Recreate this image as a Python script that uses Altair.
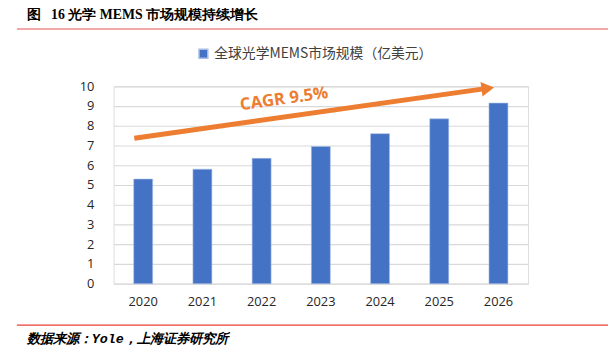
import altair as alt
import pandas as pd

years = ["2020", "2021", "2022", "2023", "2024", "2025", "2026"]
values = [5.3, 5.8, 6.35, 6.95, 7.6, 8.35, 9.15]
series_name = "全球光学MEMS市场规模（亿美元）"
y_ticks = [0, 1, 2, 3, 4, 5, 6, 7, 8, 9, 10]

# CAGR arrow annotation (in band-index / value units)
arrow_x = [0.35, 6.25]
arrow_y = [7.37, 9.87]
head_x = [6.32]
head_y = [9.9]
cagr_label = ["CAGR 9.5%"]
cagr_x = [2.88]
cagr_y = [9.35]

NB = "\u00a0"
title_text = "图" + NB * 3 + "16" + NB + "光学" + NB + "MEMS" + NB + "市场规模持续增长"
source_text = "数据来源：Yole，上海证券研究所"

W, H = 420, 200
PL, PT = 107, 77

df = pd.DataFrame({"year": years, "value": values, "series": [series_name] * len(years)})

bars = alt.Chart(df).mark_bar(color="#4472C4", stroke="#A9BEE6", strokeWidth=0.6).encode(
    x=alt.X("year:N", sort=years,
            scale=alt.Scale(paddingInner=0.68, paddingOuter=0.34),
            axis=alt.Axis(title=None, labelAngle=0, domain=False, ticks=False,
                          labelFont="Open Sans", labelFontSize=13, labelColor="#262626",
                          labelPadding=12)),
    y=alt.Y("value:Q", scale=alt.Scale(domain=[0, 10]),
            axis=alt.Axis(title=None, values=y_ticks, domain=False, ticks=False,
                          grid=True, gridColor="#D9D9D9", gridWidth=1.2,
                          labelFont="Open Sans", labelFontSize=13, labelColor="#262626",
                          labelPadding=20)),
    color=alt.Color("series:N", scale=alt.Scale(range=["#4472C4"]),
                    legend=alt.Legend(title=None, orient="none", legendX=84, legendY=-40,
                                      direction="horizontal", symbolType="square",
                                      symbolSize=80, labelFont="Noto Sans CJK SC",
                                      labelFontSize=14, labelColor="#404040", padding=0,
                                      labelLimit=0)),
)

arrow_df = pd.DataFrame({"ax": arrow_x, "ay": arrow_y})
xq = alt.X("ax:Q", scale=alt.Scale(domain=[0, 7], nice=False, zero=False), axis=None)
yq = alt.Y("ay:Q", scale=alt.Scale(domain=[0, 10]), axis=None)

arrow_line = alt.Chart(arrow_df).mark_line(color="#ED7D31", strokeWidth=5).encode(x=xq, y=yq)

head_df = pd.DataFrame({"ax": head_x, "ay": head_y})
arrow_head = alt.Chart(head_df).mark_point(shape="triangle-right", filled=True, size=220,
                                           color="#ED7D31", opacity=1, angle=352).encode(x=xq, y=yq)

cagr_df = pd.DataFrame({"ax": cagr_x, "ay": cagr_y, "t": cagr_label})
cagr = alt.Chart(cagr_df).mark_text(color="#ED7D31", font="Open Sans", fontWeight="bold",
                                    fontSize=17, angle=352).encode(x=xq, y=yq, text="t:N")

one = pd.DataFrame({"t": [title_text], "s": [source_text]})
title = alt.Chart(one).mark_text(align="left", baseline="middle", font="Liberation Serif",
                                 fontWeight="bold", fontSize=14, color="#000000").encode(
    x=alt.value(27 - 8 - PL), y=alt.value(13 - 8 - PT), text="t:N")
title_line = alt.Chart(one).mark_rule(color="#F08C8C", strokeWidth=1.5).encode(
    x=alt.value(17 - 8 - PL), x2=alt.value(616 - 8 - PL), y=alt.value(27 - 8 - PT))
foot_line = alt.Chart(one).mark_rule(color="#E8403A", strokeWidth=1.2).encode(
    x=alt.value(17 - 8 - PL), x2=alt.value(616 - 8 - PL), y=alt.value(327 - 8 - PT))
footer = alt.Chart(one).mark_text(align="left", baseline="middle", font="Liberation Mono",
                                  fontStyle="italic", fontWeight="bold", fontSize=13.5,
                                  color="#000000").encode(
    x=alt.value(27 - 8 - PL), y=alt.value(341 - 8 - PT), text="s:N")

chart = alt.layer(bars, arrow_line, arrow_head, cagr, title, title_line, foot_line, footer).resolve_scale(
    x="independent", y="independent"
).properties(
    width=W, height=H,
    autosize=alt.AutoSizeParams(type="none"),
    padding={"left": PL, "top": PT, "right": 608 - PL - W, "bottom": 352 - PT - H},
).configure_view(stroke=None).configure(background="white")

chart.save("out.html", embed_options={"renderer": "svg", "actions": False})
